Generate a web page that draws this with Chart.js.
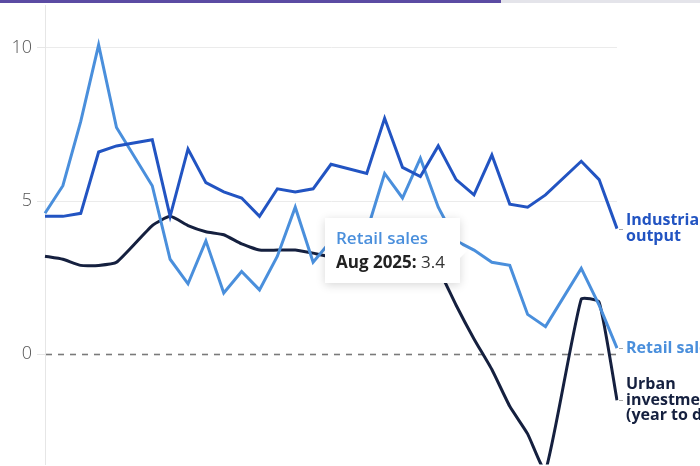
<!DOCTYPE html>
<html>
<head>
<meta charset="utf-8">
<script src="https://cdn.jsdelivr.net/npm/chart.js@4.4.1/dist/chart.umd.min.js"></script>
<style>
	html, body { margin: 0; padding: 0; background: #fff; }
	#wrap { position: relative; width: 700px; height: 466px; overflow: hidden; }
	#wrap canvas { display: block; }
	#progress { position: absolute; left: 0; top: 0; width: 700px; height: 3px; background: #e4e4ea; z-index: 3; }
	#progress div { width: 501px; height: 3px; background: #5b4ba3; }
	#tip {
		position: absolute; opacity: 0; box-sizing: border-box; width: 135px; height: 65px;
		padding: 9px 0 0 11px; background: #fff; box-shadow: 0 2px 9px rgba(0, 0, 0, 0.16);
		font-family: "Open Sans", sans-serif; pointer-events: none; z-index: 2; white-space: nowrap;
	}
	#tip::after {
		content: ""; position: absolute; right: -7px; top: 26px;
		border-left: 7px solid #fff; border-top: 7px solid transparent; border-bottom: 7px solid transparent;
	}
	#tip .t-title { font-size: 17px; font-weight: 600; line-height: 22px; }
	#tip .t-body { font-size: 17px; line-height: 25px; color: #222; }
	#tip .t-date { font-weight: 700; }
	#tip .t-val { font-weight: 400; color: #333; }
</style>
</head>
<body>
<div id="wrap">
	<div id="progress"><div></div></div>
	<canvas id="chart-china-activity" width="700" height="466"></canvas>
	<div id="tip"><div class="t-title"></div><div class="t-body"><span class="t-date"></span><span class="t-val"></span></div></div>
</div>
<script>
// Chart data (year on year %, Jan folded into the Jan-Feb reading)
const MONTHS = [
	"Aug 2023", "Sep 2023", "Oct 2023", "Nov 2023", "Dec 2023",
	"Jan 2024", "Feb 2024", "Mar 2024", "Apr 2024", "May 2024", "Jun 2024",
	"Jul 2024", "Aug 2024", "Sep 2024", "Oct 2024", "Nov 2024", "Dec 2024",
	"Jan 2025", "Feb 2025", "Mar 2025", "Apr 2025", "May 2025", "Jun 2025",
	"Jul 2025", "Aug 2025", "Sep 2025", "Oct 2025", "Nov 2025", "Dec 2025",
	"Jan 2026", "Feb 2026", "Mar 2026", "Apr 2026",
];

const INDUSTRIAL = [4.5, 4.5, 4.6, 6.6, 6.8, null, 7.0, 4.5, 6.7, 5.6, 5.3, 5.1, 4.5, 5.4, 5.3, 5.4, 6.2, null, 5.9, 7.7, 6.1, 5.8, 6.8, 5.7, 5.2, 6.5, 4.9, 4.8, 5.2, null, 6.3, 5.7, 4.1];
const RETAIL = [4.6, 5.5, 7.6, 10.1, 7.4, null, 5.5, 3.1, 2.3, 3.7, 2.0, 2.7, 2.1, 3.2, 4.8, 3.0, 3.7, null, 4.0, 5.9, 5.1, 6.4, 4.8, 3.7, 3.4, 3.0, 2.9, 1.3, 0.9, null, 2.8, 1.6, 0.2];
const URBAN = [3.2, 3.1, 2.9, 2.9, 3.0, null, 4.2, 4.5, 4.2, 4.0, 3.9, 3.6, 3.4, 3.4, 3.4, 3.3, 3.2, null, 4.1, 4.2, 4.0, 3.7, 2.8, 1.6, 0.5, -0.5, -1.7, -2.6, -3.8, null, 1.8, 1.7, -1.5];

const Y_TICKS = [0, 5, 10];

const SERIES_NAMES = ["Industrial output", "Retail sales", "Urban investment (year to date)"];
const END_LABELS = [["Industrial", "output"], ["Retail sales"], ["Urban", "investment", "(year to date)"]];

// Hovered point shown in the tooltip
const ACTIVE_SERIES = 1;
const ACTIVE_MONTH = "Aug 2025";

const COLORS = ["#2254c2", "#4a8fdc", "#15203f"];

//---------------------------------------------------------
// Plugins
//---------------------------------------------------------

// Dashed zero line
const zeroLine = {
	id: "zeroLine",
	beforeDatasetsDraw(chart) {
		const { ctx, chartArea, scales } = chart;
		const y = Math.round(scales.y.getPixelForValue(0)) + 0.5;
		ctx.save();
		ctx.strokeStyle = "#7a7a7a";
		ctx.lineWidth = 1.6;
		ctx.setLineDash([6, 6]);
		ctx.beginPath();
		ctx.moveTo(chartArea.left + 1, y);
		ctx.lineTo(chartArea.right, y);
		ctx.stroke();
		ctx.restore();
	},
};

// Series names at the end of each line
const endLabels = {
	id: "endLabels",
	afterDatasetsDraw(chart) {
		const { ctx, chartArea } = chart;
		ctx.save();
		chart.data.datasets.forEach((ds, i) => {
			const meta = chart.getDatasetMeta(i);
			const pt = meta.data[meta.data.length - 1];
			const lines = END_LABELS[i];
			const lh = 15.5;

			// short leader
			ctx.strokeStyle = "#a8a8a8";
			ctx.lineWidth = 1;
			ctx.beginPath();
			ctx.moveTo(chartArea.right + 2, Math.round(pt.y) + 0.5);
			ctx.lineTo(chartArea.right + 6, Math.round(pt.y) + 0.5);
			ctx.stroke();

			ctx.fillStyle = COLORS[i];
			ctx.font = "700 16px 'Open Sans', sans-serif";
			ctx.textBaseline = "middle";
			const top = pt.y - ((lines.length - 1) * lh) / 2;
			lines.forEach((line, j) => {
				ctx.fillText(line, chartArea.right + 9, top + j * lh);
			});
		});
		ctx.restore();
	},
};

// HTML tooltip so the date can be bold and the value regular
const externalTooltip = (context) => {
	const { tooltip } = context;
	const el = document.getElementById("tip");
	if (tooltip.opacity === 0 || !tooltip.dataPoints) {
		el.style.opacity = 0;
		return;
	}
	const dp = tooltip.dataPoints[0];
	el.querySelector(".t-title").textContent = dp.dataset.label;
	el.querySelector(".t-title").style.color = dp.dataset.borderColor;
	el.querySelector(".t-date").textContent = dp.label + ":";
	el.querySelector(".t-val").textContent = " " + dp.formattedValue;
	el.style.left = tooltip.caretX - 135 - 14 + "px";
	el.style.top = tooltip.caretY - 33 + "px";
	el.style.opacity = 1;
};

//---------------------------------------------------------
// Chart
//---------------------------------------------------------

const makeDataset = (label, data, color, tension) => ({
	label: label,
	data: data,
	borderColor: color,
	backgroundColor: color,
	borderWidth: 3,
	tension: tension,
	spanGaps: true,
	pointRadius: 0,
	pointHoverRadius: 0,
	borderJoinStyle: "miter",
});

const CHART_DATA = {
	labels: MONTHS,
	datasets: [
		makeDataset(SERIES_NAMES[0], INDUSTRIAL, COLORS[0], 0),
		makeDataset(SERIES_NAMES[1], RETAIL, COLORS[1], 0),
		makeDataset(SERIES_NAMES[2], URBAN, COLORS[2], 0.15),
	],
};

const CHART_CONFIG = {
	type: "line",
	data: CHART_DATA,
	options: {
		responsive: false,
		animation: false,
		events: [],
		layout: {
			padding: { top: 5, right: 83, bottom: 0, left: 0 },
		},
		scales: {
			x: {
				display: false,
			},
			y: {
				min: -3.6,
				max: 11.4,
				afterBuildTicks: (scale) => {
					scale.ticks = Y_TICKS.map((v) => ({ value: v }));
				},
				afterFit: (scale) => {
					// ticks sit inside the range, so no room is needed for half labels
					scale.width = 45;
					scale.paddingTop = 0;
					scale.paddingBottom = 0;
				},
				border: {
					display: true,
					color: "#e6e6e6",
					width: 1,
				},
				grid: {
					color: (ctx) => (ctx.tick && ctx.tick.value === 0 ? "rgba(0,0,0,0)" : "#ebebeb"),
					tickColor: "#e6e6e6",
					tickLength: 8,
					lineWidth: 1,
				},
				ticks: {
					color: "#555",
					padding: 5,
					font: { family: "'Open Sans', sans-serif", size: 18, weight: 300 },
				},
			},
		},
		plugins: {
			legend: { display: false },
			tooltip: {
				enabled: false,
				external: externalTooltip,
				mode: "nearest",
				intersect: false,
			},
		},
	},
	plugins: [zeroLine, endLabels],
};

const CHART_WRAPPER = document.getElementById("chart-china-activity");
const chinaChart = new Chart(CHART_WRAPPER, CHART_CONFIG);

chinaChart.tooltip.setActiveElements([{ datasetIndex: ACTIVE_SERIES, index: MONTHS.indexOf(ACTIVE_MONTH) }], { x: 0, y: 0 });
chinaChart.update("none");
</script>
</body>
</html>
